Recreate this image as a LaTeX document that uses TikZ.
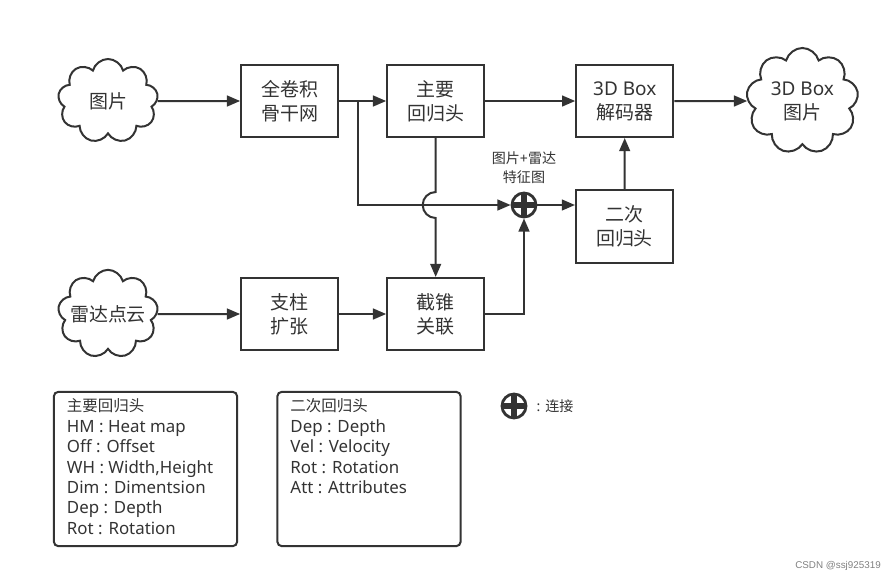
\documentclass[tikz,border=0pt]{standalone}
\usepackage{fontspec}
\setmainfont{Noto Sans}
\newfontfamily\cjk{Noto Sans CJK SC}
\newfontfamily\wmfont{Liberation Sans}
\usetikzlibrary{positioning,arrows.meta,shapes.symbols,calc}
\definecolor{ink}{HTML}{333333}

\begin{document}
\begin{tikzpicture}[x=0.025cm,y=-0.025cm,on grid,color=ink,line width=0.05cm,
  >={Triangle[length=0.33cm,width=0.27cm]},
  font=\fontsize{13.5}{17}\selectfont,
  blk/.style={draw,minimum width=2.425cm,minimum height=1.8cm,align=center,inner sep=0pt},
  cld/.style={cloud,draw,cloud puffs=9,aspect=1.1,minimum width=2.5cm,minimum height=2.1cm,align=center,inner sep=0pt},
  joint/.style={circle,draw,line width=0.07cm,minimum size=0.6cm,inner sep=0pt,
    path picture={\draw[line width=0.13cm]
      (path picture bounding box.north) -- (path picture bounding box.south)
      (path picture bounding box.west) -- (path picture bounding box.east);}},
  lbl/.style={font=\fontsize{10}{13.5}\selectfont,align=center},
  legbox/.style={draw,rounded corners=0.1cm,minimum width=4.575cm,minimum height=3.85cm},
  legtxt/.style={font=\fontsize{12}{14.5}\selectfont,align=left,inner sep=0pt,anchor=north west}]
\useasboundingbox (0,0) rectangle (896,581);
% upper row: picture branch
\node[cld] (img) at (108,101) {\cjk 图片};
\node[blk,right=4.54cm of img] (bkb) {\cjk 全卷积\\\cjk 骨干网};
\node[blk,right=3.65cm of bkb] (mhead) {\cjk 主要\\\cjk 回归头};
\node[blk,right=4.725cm of mhead] (dec) {3D Box\\\cjk 解码器};
\node[cld,minimum width=2.8cm,minimum height=1.7cm,inner xsep=0.05cm,inner ysep=-0.38cm,right=4.44cm of dec] (out) {3D Box\\\cjk 图片};
% lower row: radar branch
\node[cld,inner xsep=-0.25cm,inner ysep=-0.1cm] (radar) at (108,314) {\cjk 雷达点云};
\node[blk,right=4.54cm of radar] (pil) {\cjk 支柱\\\cjk 扩张};
\node[blk,right=3.65cm of pil] (frust) {\cjk 截锥\\\cjk 关联};
% fusion
\node[joint] (joint) at (524,205) {};
\node[lbl,above=0.925cm of joint] (jtxt) {{\cjk 图片}+{\cjk 雷达}\\\cjk 特征图};
\node[blk] (sec) at (624.5,226.5) {\cjk 二次\\\cjk 回归头};
\coordinate (br) at ($(bkb.east)!0.41!(mhead.west)$);

\draw[->] (img) -- (bkb);
\draw[->] (bkb) -- (mhead);
\draw[->] (mhead) -- (dec);
\draw[->] (dec) -- (out);
\draw[->] (radar) -- (pil);
\draw[->] (pil) -- (frust);
\draw[->] (br) |- (joint.west);
\draw[->] (mhead.south) -- ($(mhead.south |- joint)+(0,-13)$)
  arc[start angle=90,end angle=270,radius=0.325cm] -- (frust.north);
\draw[->] (frust.east) -| (joint.south);
\draw[->] (joint.east) -- (joint -| sec.west);
\draw[->] (sec.north) -- (dec.south);

% legend
\node[legbox] (lmain) at (145.5,469) {};
\node[legbox] (lsec) at (369,469) {};
\node[legtxt] (lmaintxt) at ($(lmain.north west)+(13,7)$)
  {{\cjk\fontsize{11}{14.5}\selectfont 主要回归头}\\HM : Heat map\\Off : Offset\\WH : Width,Height\\Dim : Dimentsion\\Dep : Depth\\Rot : Rotation};
\node[legtxt] (lsectxt) at ($(lsec.north west)+(13,7)$)
  {{\cjk\fontsize{11}{14.5}\selectfont 二次回归头}\\Dep : Depth\\Vel : Velocity\\Rot : Rotation\\Att : Attributes};
\node[joint] (ljoint) at (514,406) {};
\node[font=\fontsize{10}{12}\selectfont,anchor=west] (ljtxt) at (531,406) {: {\cjk 连接}};

\node[font=\wmfont\fontsize{7}{8}\selectfont,text=gray] (wm) at (838,566) {CSDN @ssj925319};
\end{tikzpicture}
\end{document}
